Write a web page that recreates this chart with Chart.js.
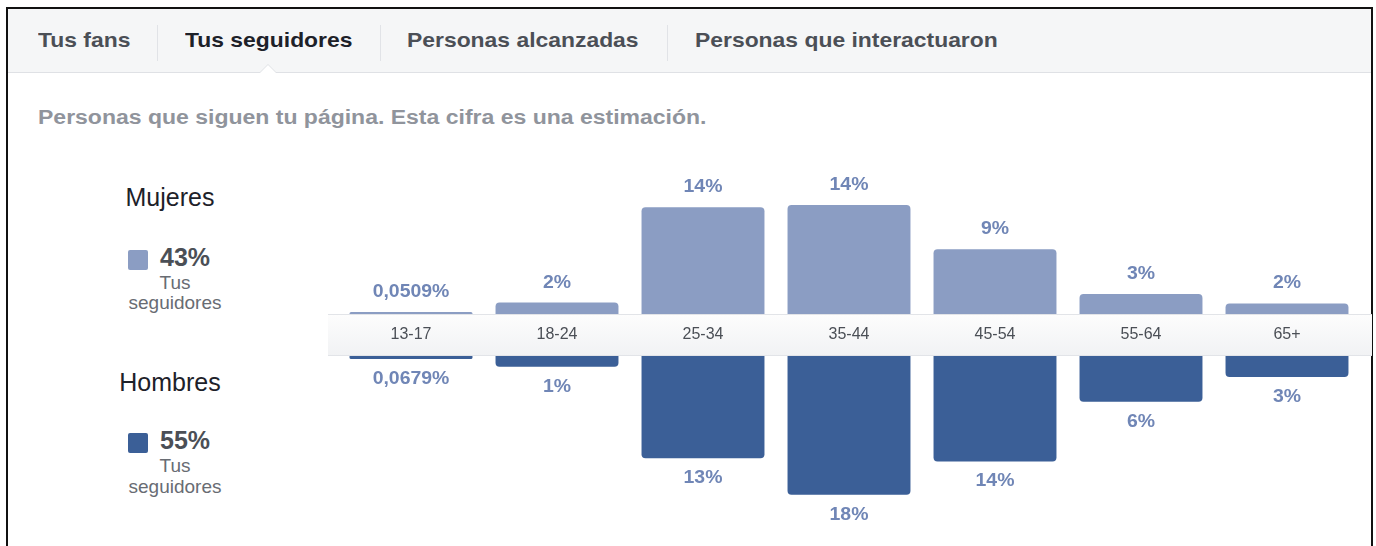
<!DOCTYPE html>
<html>
<head>
<meta charset="utf-8">
<script src="https://cdn.jsdelivr.net/npm/chart.js@4/dist/chart.umd.min.js"></script>
<style>
  html, body { margin:0; padding:0; background:#fff; width:1376px; height:546px; overflow:hidden; font-family:"Liberation Sans", Arial, sans-serif; }
  .frame { position:absolute; left:6px; top:7px; width:1367px; height:600px; border:2px solid #111; box-sizing:border-box; }
  .tabbar { position:absolute; left:8px; top:9px; width:1363px; height:64px; background:#f5f6f7; border-bottom:1px solid #dfe1e5; box-sizing:border-box; }
  .tab { position:absolute; top:0; height:62px; line-height:62px; font-size:21px; font-weight:bold; color:#4b4f56; white-space:nowrap; transform:scaleX(1.09); transform-origin:left center; }
  .tab.active { color:#1d2129; }
  .sep { position:absolute; top:23px; width:1px; height:36px; background:#e1e3e7; }
  .notch { position:absolute; left:259px; top:64px; width:0; height:0; border-left:9px solid transparent; border-right:9px solid transparent; border-bottom:9px solid #dfe1e5; }
  .notch2 { position:absolute; left:260px; top:65px; width:0; height:0; border-left:8px solid transparent; border-right:8px solid transparent; border-bottom:8px solid #fff; }
  .sub { position:absolute; left:38px; top:105px; font-size:20px; font-weight:bold; color:#90949c; white-space:nowrap; line-height:24px; transform:scaleX(1.15); transform-origin:left center; }
  .lg { position:absolute; white-space:nowrap; }
  .lgTitle { font-size:25px; color:#1d2129; width:200px; text-align:center; line-height:30px; }
  .sq { width:20px; height:20px; border-radius:2px; }
  .pct { font-size:25px; font-weight:bold; color:#4b4f56; line-height:30px; }
  .small { font-size:19px; color:#686c73; width:120px; text-align:center; line-height:20px; }
  canvas { position:absolute; }
</style>
</head>
<body>
<div class="tabbar"></div>
<div class="frame"></div>
<div class="tab" style="left:38px;top:9px">Tus fans</div>
<div class="sep" style="left:157px;top:25px"></div>
<div class="tab active" style="left:185px;top:9px">Tus seguidores</div>
<div class="sep" style="left:380px;top:25px"></div>
<div class="tab" style="left:407px;top:9px">Personas alcanzadas</div>
<div class="sep" style="left:667px;top:25px"></div>
<div class="tab" style="left:695px;top:9px">Personas que interactuaron</div>
<div class="notch"></div><div class="notch2"></div>
<div class="sub">Personas que siguen tu página. Esta cifra es una estimación.</div>

<div class="lg lgTitle" style="left:70px;top:182px">Mujeres</div>
<div class="lg sq" style="left:128px;top:250px;background:#8b9dc3"></div>
<div class="lg pct" style="left:160px;top:242px">43%</div>
<div class="lg small" style="left:115px;top:273px">Tus</div>
<div class="lg small" style="left:115px;top:293px">seguidores</div>

<div class="lg lgTitle" style="left:70px;top:367px">Hombres</div>
<div class="lg sq" style="left:128px;top:433px;background:#3b5f97"></div>
<div class="lg pct" style="left:160px;top:425px">55%</div>
<div class="lg small" style="left:115px;top:456px">Tus</div>
<div class="lg small" style="left:115px;top:477px">seguidores</div>

<canvas id="top" width="1044" height="155" style="left:328px;top:160px;width:1044px;height:155px"></canvas>
<canvas id="bot" width="1044" height="232" style="left:328px;top:314px;width:1044px;height:232px"></canvas>

<script>
const categories = ['13-17', '18-24', '25-34', '35-44', '45-54', '55-64', '65+'];
const mujeres = [0.0509, 1.6, 13.9, 14.2, 8.5, 2.7, 1.5];
const hombres = [0.0679, 1.4, 13.2, 17.9, 13.6, 5.9, 2.7];
const yMax = 20;

const colorMujeres = '#8b9dc3';
const colorHombres = '#3b5f97';
const labelColor = '#7086b6';

function fmt(v) {
  if (v < 1) return v.toFixed(4).replace('.', ',') + '%';
  return Math.round(v) + '%';
}

function valueLabels(offset) {
  return {
    id: 'valueLabels',
    afterDatasetsDraw(chart) {
      const ctx = chart.ctx;
      const meta = chart.getDatasetMeta(0);
      const data = chart.data.datasets[0].data;
      ctx.save();
      ctx.font = 'bold 18px "Liberation Sans", Arial, sans-serif';
      ctx.fillStyle = labelColor;
      ctx.textAlign = 'center';
      ctx.textBaseline = 'middle';
      meta.data.forEach((bar, i) => {
        ctx.save();
        ctx.translate(bar.x, bar.y + offset);
        ctx.scale(1.08, 1);
        ctx.fillText(fmt(data[i]), 0, 0);
        ctx.restore();
      });
      ctx.restore();
    }
  };
}

const band = {
  id: 'band',
  beforeDraw(chart) {
    const x = chart.scales.x;
    const ctx = chart.ctx;
    const top = x.top, h = x.bottom - x.top;
    ctx.save();
    const g = ctx.createLinearGradient(0, top, 0, top + h);
    g.addColorStop(0, '#fdfdfd');
    g.addColorStop(1, '#f1f2f4');
    ctx.fillStyle = g;
    ctx.fillRect(0, top, chart.width, h);
    ctx.fillStyle = '#e2e4e8';
    ctx.fillRect(0, top, chart.width, 1);
    ctx.fillRect(0, top + h - 1, chart.width, 1);
    ctx.restore();
  }
};

const barCommon = {
  barPercentage: 0.842,
  categoryPercentage: 1,
  borderRadius: 4,
  borderSkipped: 'start',
  minBarLength: 3
};

new Chart(document.getElementById('top'), {
  type: 'bar',
  data: { labels: categories, datasets: [Object.assign({ label: 'Mujeres', data: mujeres, backgroundColor: colorMujeres }, barCommon)] },
  options: {
    responsive: false, animation: false,
    layout: { padding: { left: 10, right: 12, top: 0, bottom: 0 } },
    plugins: { legend: { display: false }, tooltip: { enabled: false } },
    scales: {
      x: { display: false },
      y: { display: false, min: 0, max: yMax }
    }
  },
  plugins: [valueLabels(-20)]
});

new Chart(document.getElementById('bot'), {
  type: 'bar',
  data: { labels: categories, datasets: [Object.assign({ label: 'Hombres', data: hombres, backgroundColor: colorHombres }, barCommon)] },
  options: {
    responsive: false, animation: false,
    layout: { padding: { left: 10, right: 12, top: 0, bottom: 35 } },
    plugins: { legend: { display: false }, tooltip: { enabled: false } },
    scales: {
      x: {
        position: 'top',
        grid: { display: false, drawTicks: false },
        border: { display: false },
        ticks: { color: '#4b4f56', font: { size: 16, family: '"Liberation Sans", Arial, sans-serif' }, padding: 12, maxRotation: 0 },
        afterFit(scale) { scale.height = 42; }
      },
      y: { display: false, min: 0, max: yMax, reverse: true }
    }
  },
  plugins: [band, valueLabels(20)]
});
</script>
</body>
</html>
